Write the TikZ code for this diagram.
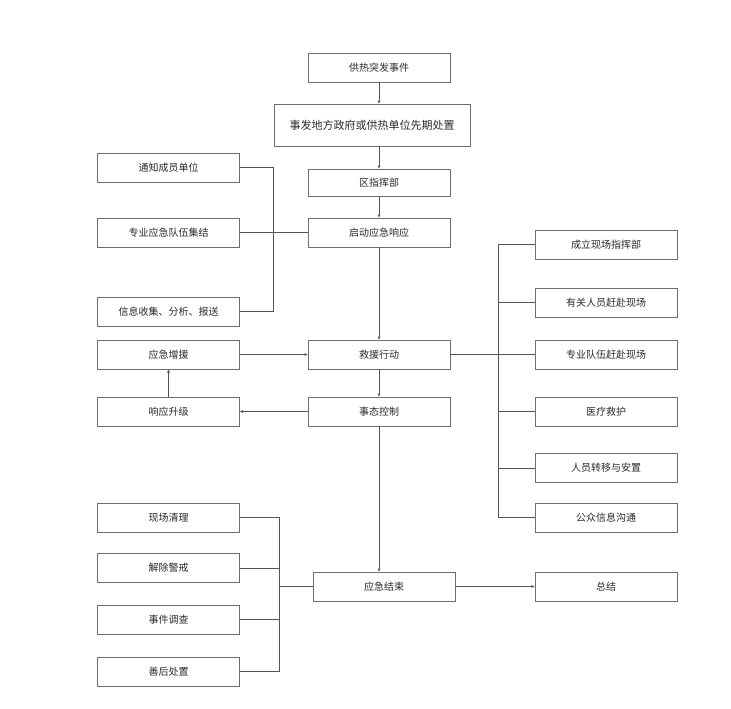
\documentclass[tikz,border=0pt]{standalone}
\usepackage{fontspec}
\setmainfont{Noto Sans CJK SC}
\usetikzlibrary{arrows.meta}
\definecolor{boxline}{HTML}{6E6E6E}
\definecolor{conn}{HTML}{555555}
\definecolor{txt}{HTML}{2A2A2A}
\tikzset{
  box/.style={draw=boxline, line width=0.9pt, fill=white, inner sep=0pt, outer sep=0pt,
    minimum width=142pt, minimum height=29pt, text=txt, font=\fontsize{10pt}{12pt}\selectfont},
  link/.style={draw=conn, line width=0.8pt},
  arr/.style={link, -{Latex[length=3.5pt,width=3pt]}}
}
\begin{document}
\begin{tikzpicture}[x=1pt,y=-1pt]
\useasboundingbox (0,0) rectangle (731,709);
% central column
\node[box] (a) at (379,67.5) {供热突发事件};
\node[box, minimum width=196pt, minimum height=42pt, font=\fontsize{11pt}{13pt}\selectfont] (b) at (372,125) {事发地方政府或供热单位先期处置};
\node[box, minimum height=27pt] (c) at (379,182.5) {区指挥部};
\node[box] (d) at (379,232.5) {启动应急响应};
\node[box] (e) at (379,354.5) {救援行动};
\node[box] (f) at (379,411.5) {事态控制};
\node[box] (g) at (384,586.5) {应急结束};
% left column
\node[box] (l1) at (168.5,167.5) {通知成员单位};
\node[box] (l2) at (168.5,232.5) {专业应急队伍集结};
\node[box] (l3) at (168.5,311.5) {信息收集、分析、报送};
\node[box] (l4) at (168.5,354.5) {应急增援};
\node[box] (l5) at (168.5,411.5) {响应升级};
\node[box] (b1) at (168.5,517.5) {现场清理};
\node[box] (b2) at (168.5,568) {解除警戒};
\node[box] (b3) at (168.5,619.5) {事件调查};
\node[box] (b4) at (168.5,671.5) {善后处置};
% right column
\node[box] (r1) at (606,244.5) {成立现场指挥部};
\node[box] (r2) at (606,302.5) {有关人员赶赴现场};
\node[box] (r3) at (606,354.5) {专业队伍赶赴现场};
\node[box] (r4) at (606,411.5) {医疗救护};
\node[box] (r5) at (606,468) {人员转移与安置};
\node[box] (r6) at (606,517.5) {公众信息沟通};
\node[box] (s) at (606,586.5) {总结};
% main flow
\draw[arr] (a.south) -- (a.south |- b.north);
\draw[arr] (c.north |- b.south) -- (c.north);
\draw[arr] (c) -- (d);
\draw[arr] (d) -- (e);
\draw[arr] (e) -- (f);
\draw[arr] (f.south) -- (f.south |- g.north);
\draw[arr] (g) -- (s);
% left top bus
\draw[link] (l1.east) -- ++(34,0) |- (l3.east);
\draw[link] (l2.east) -- (d.west);
% escalation loop
\draw[arr] (l4) -- (e);
\draw[arr] (f) -- (l5);
\draw[arr] (l5) -- (l4);
% right bus
\draw[link] (e.east) -- (r3.west);
\draw[link] (r1.west) -- ++(-37,0) |- (r6.west);
\draw[link] (r2.west) -- ++(-37,0);
\draw[link] (r4.west) -- ++(-37,0);
\draw[link] (r5.west) -- ++(-37,0);
% bottom-left bus
\draw[link] (b1.east) -- ++(40,0) |- (b4.east);
\draw[link] (b2.east) -- ++(40,0);
\draw[link] (b3.east) -- ++(40,0);
\coordinate (bb) at (280,586.5);
\draw[link] (bb) -- (g.west);
\end{tikzpicture}
\end{document}
